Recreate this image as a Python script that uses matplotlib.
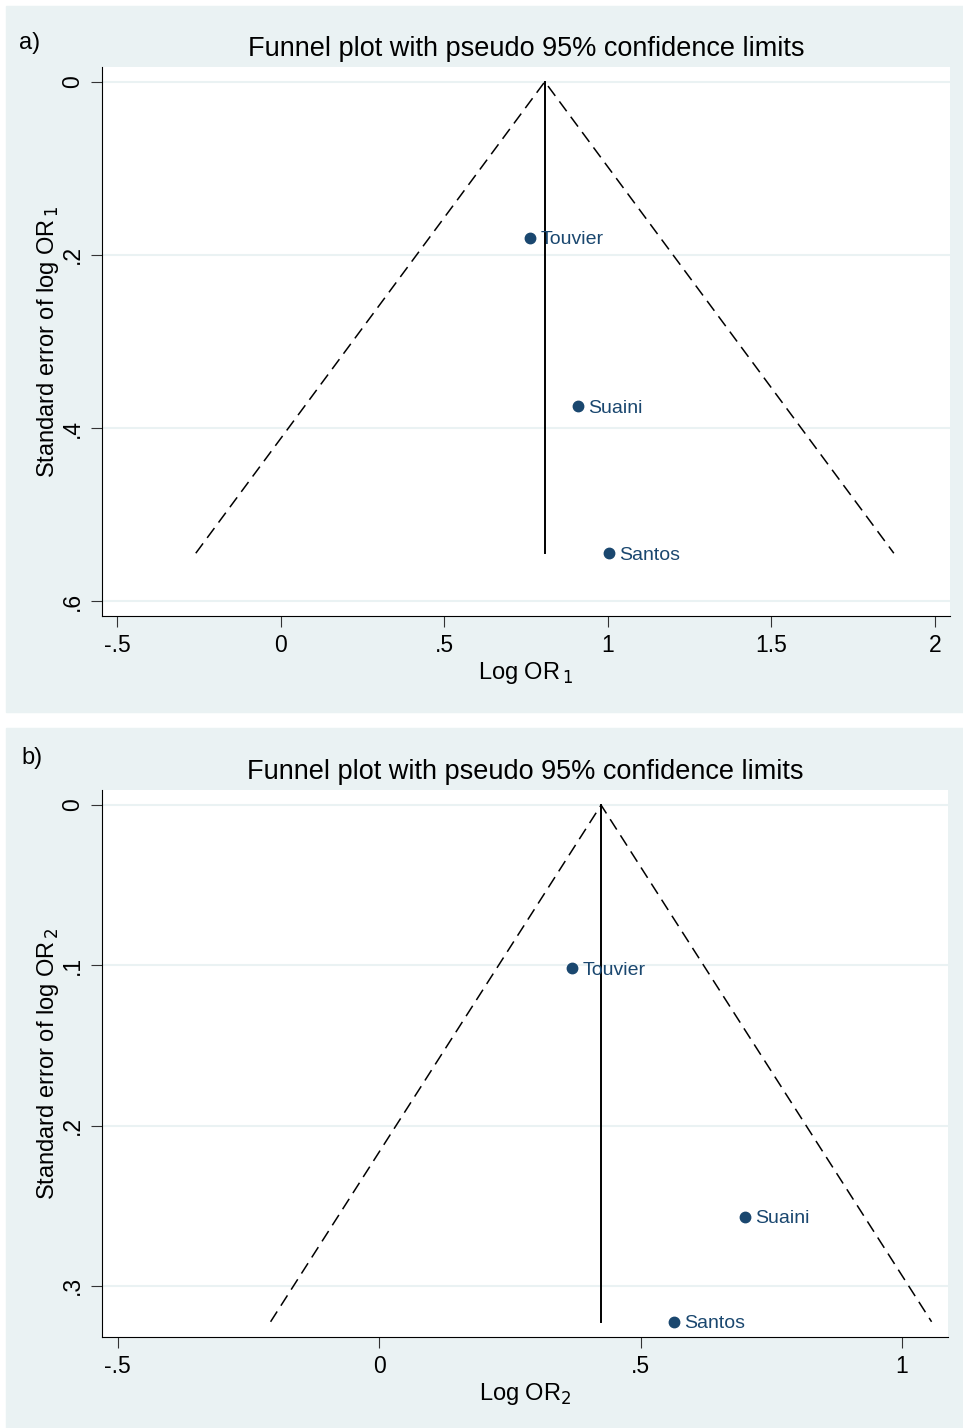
import numpy as np
import matplotlib
matplotlib.use('Agg')
import matplotlib.pyplot as plt
from matplotlib.patches import Rectangle

plt.rcParams['font.family'] = ['Liberation Sans', 'DejaVu Sans']

studies = ['Touvier', 'Suaini', 'Santos']

# panel a
logor1 = [0.761, 0.908, 1.003]
se1 = [0.180, 0.3746, 0.5445]
pooled1 = 0.807

# panel b
logor2 = [0.369, 0.700, 0.564]
se2 = [0.1017, 0.257, 0.3225]
pooled2 = 0.4245

bg = '#eaf2f3'
navy = '#1a476f'

fig = plt.figure(figsize=(9.63, 14.28), dpi=100)
fig.patches.append(Rectangle((6/963, 1-712/1428), 957/963, 706/1428,
                             transform=fig.transFigure, color=bg, zorder=-10))
fig.patches.append(Rectangle((6/963, 0), 957/963, 1-728/1428,
                             transform=fig.transFigure, color=bg, zorder=-10))


def funnel(ax, x, se, pooled, xlim, ylim, xticks, xtl, yticks, ytl, sub):
    smax = max(se)
    s = np.array([0, smax])
    ax.plot([pooled - 1.96*smax, pooled, pooled + 1.96*smax], [smax, 0, smax],
            color='black', ls=(0, (8, 4.5)), lw=1.1)
    ax.plot([pooled, pooled], s, color='black', lw=1.4)
    ax.plot(x, se, 'o', color=navy, ms=7.5, zorder=5)
    for xi, si, name in zip(x, se, studies):
        ax.annotate(name, (xi, si), xytext=(7.5, 0), textcoords='offset points',
                    color=navy, fontsize=14, va='center_baseline', ha='left')
    ax.set_xlim(*xlim)
    ax.set_ylim(*ylim)
    ax.set_xticks(xticks)
    ax.set_xticklabels(xtl, fontsize=16.5)
    ax.set_yticks(yticks)
    ax.set_yticklabels(ytl, fontsize=16.5, rotation=90, va='center')
    ax.grid(axis='y', color=bg, lw=1.5)
    ax.set_axisbelow(True)
    for sp in ['top', 'right']:
        ax.spines[sp].set_visible(False)
    ax.tick_params(length=8, width=0.8, color='#333333', pad=5)
    ax.set_ylabel('Standard error of log OR$_{\\,%s}$' % sub, fontsize=17, labelpad=0)
    ax.set_facecolor('white')


ax1 = fig.add_axes([102/963, 1-616/1428, 848/963, 549/1428])
funnel(ax1, logor1, se1, pooled1, (-0.547, 2.046), (0.617, -0.017),
       [-0.5, 0, 0.5, 1, 1.5, 2], ['-.5', '0', '.5', '1', '1.5', '2'],
       [0, 0.2, 0.4, 0.6], ['0', '.2', '.4', '.6'], '1')
ax1.set_xlabel('Log OR$_{\\,1}$', fontsize=17, labelpad=2)
ax1.set_title('Funnel plot with pseudo 95% confidence limits', fontsize=19.5, pad=8)
fig.text(19/963, 1-43/1428, 'a)', fontsize=17, va='center')

ax2 = fig.add_axes([102/963, 1-1337/1428, 846/963, 547/1428])
funnel(ax2, logor2, se2, pooled2, (-0.530, 1.088), (0.332, -0.0094),
       [-0.5, 0, 0.5, 1], ['-.5', '0', '.5', '1'],
       [0, 0.1, 0.2, 0.3], ['0', '.1', '.2', '.3'], '2')
ax2.set_xlabel('Log OR$_2$', fontsize=17, labelpad=2)
ax2.set_title('Funnel plot with pseudo 95% confidence limits', fontsize=19.5, pad=8)
fig.text(21/963, 1-758/1428, 'b)', fontsize=17, va='center')

fig.savefig('out.png', dpi=100)
